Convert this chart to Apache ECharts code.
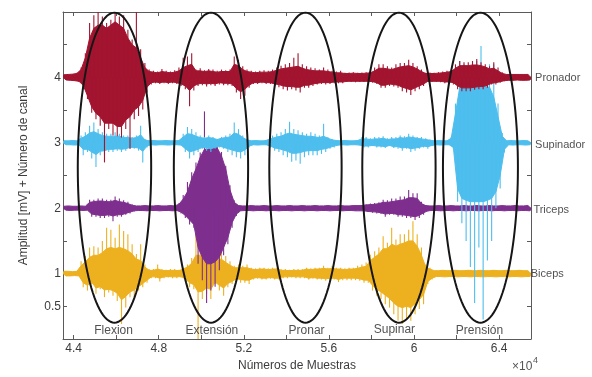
<!DOCTYPE html>
<html>
<head>
<meta charset="utf-8">
<script src="https://cdn.jsdelivr.net/npm/echarts@6/dist/echarts.min.js"></script>
<style>html,body{margin:0;padding:0;background:#fff}#chart{width:592px;height:377px}</style>
</head>
<body>
<div id="chart"></div>
<script>
// ---- Data (mV per 200-sample bin, starting at sample 43500) ----
// *Peak arrays: extreme excursion in the bin (thin spikes); *Body arrays: dense filled part.
const binStartSample = 43500;
const binSize = 200;

const channelNames = ['Biceps', 'Triceps', 'Supinador', 'Pronador'];
const channelOffsets = [1, 2, 3, 4];
const channelColors = ['#EDB120', '#7E2F8E', '#4DBEEE', '#A2142F'];

const pronadorPeakHi = [0.04,0.045,0.05,0.07,0.15,0.37,0.83,0.95,1.1,0.93,
  0.83,0.88,1.1,0.93,0.95,0.73,0.58,1.05,0.43,0.22,
  0.12,0.1,0.09,0.13,0.1,0.09,0.11,0.15,0.3,0.32,
  0.37,0.12,0.14,0.11,0.13,0.12,0.1,0.12,0.11,0.12,
  0.32,0.27,0.17,0.12,0.1,0.09,0.1,0.11,0.1,0.12,
  0.15,0.18,0.2,0.22,0.3,0.37,0.2,0.17,0.15,0.14,
  0.12,0.15,0.12,0.1,0.09,0.1,0.07,0.075,0.08,0.07,
  0.075,0.08,0.09,0.15,0.2,0.2,0.17,0.15,0.2,0.22,
  0.22,0.27,0.22,0.17,0.12,0.07,0.075,0.07,0.08,0.09,
  0.1,0.12,0.2,0.25,0.23,0.23,0.25,0.28,0.23,0.2,
  0.17,0.23,0.15,0.08,0.045,0.045,0.05,0.045,0.045,0.05];
const pronadorPeakLo = [0.04,0.045,0.05,0.07,0.16,0.33,0.54,0.64,0.74,1.3,
  0.79,0.89,0.9,0.92,0.79,1.09,0.64,0.59,0.49,0.23,
  0.11,0.09,0.1,0.09,0.1,0.09,0.1,0.13,0.18,0.44,
  0.2,0.13,0.12,0.14,0.12,0.13,0.11,0.12,0.12,0.13,
  0.23,0.33,0.28,0.16,0.1,0.1,0.09,0.1,0.1,0.13,
  0.15,0.18,0.2,0.18,0.2,0.23,0.16,0.16,0.13,0.11,
  0.1,0.11,0.1,0.09,0.09,0.09,0.07,0.07,0.075,0.07,
  0.07,0.075,0.08,0.1,0.16,0.16,0.13,0.14,0.16,0.21,
  0.23,0.27,0.21,0.18,0.13,0.07,0.07,0.07,0.075,0.09,
  0.09,0.11,0.18,0.21,0.21,0.21,0.19,0.18,0.18,0.16,
  0.11,0.11,0.08,0.06,0.045,0.045,0.04,0.045,0.045,0.04];
const pronadorBodyHi = [0.04,0.045,0.05,0.06,0.12,0.3,0.6,0.75,0.8,0.8,
  0.75,0.8,0.85,0.8,0.75,0.6,0.5,0.45,0.3,0.15,
  0.09,0.08,0.07,0.09,0.08,0.07,0.08,0.1,0.15,0.18,
  0.2,0.1,0.1,0.09,0.1,0.09,0.08,0.09,0.09,0.09,
  0.2,0.18,0.12,0.09,0.08,0.07,0.08,0.08,0.08,0.09,
  0.11,0.13,0.14,0.15,0.16,0.17,0.14,0.12,0.11,0.1,
  0.1,0.1,0.09,0.08,0.07,0.07,0.06,0.06,0.065,0.06,
  0.06,0.065,0.07,0.1,0.14,0.14,0.13,0.12,0.14,0.16,
  0.17,0.18,0.16,0.13,0.09,0.06,0.06,0.06,0.065,0.07,
  0.08,0.09,0.14,0.18,0.18,0.18,0.19,0.19,0.18,0.16,
  0.13,0.14,0.1,0.06,0.045,0.045,0.045,0.045,0.045,0.045];
const pronadorBodyLo = [0.04,0.045,0.05,0.06,0.12,0.28,0.45,0.55,0.6,0.7,
  0.7,0.7,0.75,0.75,0.65,0.6,0.5,0.45,0.35,0.15,
  0.08,0.07,0.08,0.07,0.08,0.07,0.08,0.1,0.13,0.2,
  0.13,0.1,0.09,0.1,0.09,0.1,0.08,0.09,0.09,0.1,
  0.17,0.22,0.18,0.12,0.08,0.08,0.07,0.08,0.08,0.1,
  0.11,0.13,0.14,0.14,0.15,0.15,0.12,0.12,0.1,0.09,
  0.08,0.08,0.08,0.07,0.07,0.07,0.06,0.06,0.06,0.06,
  0.06,0.06,0.065,0.08,0.12,0.12,0.1,0.11,0.12,0.15,
  0.17,0.19,0.16,0.13,0.1,0.06,0.06,0.06,0.06,0.07,
  0.07,0.08,0.13,0.16,0.16,0.16,0.15,0.14,0.14,0.12,
  0.09,0.08,0.065,0.05,0.045,0.045,0.04,0.045,0.045,0.04];

const supinadorPeakHi = [0.03,0.03,0.035,0.03,0.11,0.16,0.26,0.31,0.21,0.16,
  0.14,0.14,0.16,0.14,0.11,0.11,0.09,0.11,0.26,0.06,
  0.03,0.035,0.03,0.03,0.035,0.03,0.03,0.035,0.14,0.24,
  0.21,0.16,0.11,0.09,0.11,0.09,0.06,0.09,0.11,0.14,
  0.31,0.21,0.11,0.06,0.03,0.035,0.03,0.03,0.06,0.11,
  0.14,0.16,0.21,0.32,0.21,0.19,0.16,0.14,0.16,0.14,
  0.11,0.29,0.09,0.06,0.04,0.03,0.035,0.03,0.03,0.04,
  0.09,0.09,0.07,0.09,0.09,0.1,0.07,0.09,0.09,0.11,
  0.1,0.14,0.11,0.09,0.09,0.07,0.05,0.03,0.035,0.03,
  0.03,0.09,0.6,1.25,1.2,1.15,0.95,1.25,1.48,1.0,
  1.2,1.2,0.6,0.15,0.03,0.035,0.03,0.03,0.035,0.03];
const supinadorPeakLo = [0.03,0.03,0.035,0.03,0.19,0.14,0.24,0.37,0.19,0.19,
  0.14,0.14,0.12,0.14,0.12,0.09,0.09,0.12,0.3,0.07,
  0.03,0.035,0.03,0.03,0.035,0.03,0.03,0.035,0.14,0.24,
  0.19,0.14,0.09,0.12,0.14,0.09,0.07,0.09,0.14,0.19,
  0.22,0.24,0.19,0.07,0.03,0.035,0.03,0.03,0.07,0.12,
  0.14,0.19,0.22,0.29,0.27,0.32,0.22,0.19,0.19,0.19,
  0.17,0.14,0.09,0.07,0.04,0.03,0.035,0.03,0.03,0.04,
  0.07,0.07,0.05,0.07,0.07,0.08,0.05,0.08,0.09,0.12,
  0.09,0.14,0.12,0.09,0.07,0.09,0.05,0.03,0.035,0.03,
  0.03,0.09,0.9,1.23,1.5,1.9,2.45,1.6,2.7,1.8,
  1.5,1.0,0.7,0.15,0.03,0.035,0.03,0.03,0.035,0.03];
const supinadorBodyHi = [0.03,0.03,0.035,0.03,0.07,0.1,0.15,0.17,0.14,0.11,
  0.1,0.1,0.1,0.1,0.08,0.08,0.07,0.08,0.12,0.045,
  0.03,0.035,0.03,0.03,0.035,0.03,0.03,0.035,0.09,0.14,
  0.13,0.1,0.08,0.07,0.08,0.07,0.05,0.07,0.08,0.09,
  0.15,0.13,0.08,0.045,0.03,0.035,0.03,0.03,0.045,0.07,
  0.09,0.1,0.13,0.15,0.13,0.12,0.11,0.1,0.1,0.09,
  0.08,0.1,0.07,0.045,0.035,0.03,0.035,0.03,0.03,0.035,
  0.06,0.06,0.05,0.06,0.06,0.07,0.05,0.06,0.06,0.08,
  0.07,0.09,0.08,0.07,0.06,0.05,0.04,0.03,0.035,0.03,
  0.03,0.07,0.45,0.85,0.87,0.87,0.85,0.87,0.88,0.86,
  0.85,0.7,0.4,0.1,0.03,0.035,0.03,0.03,0.035,0.03];
const supinadorBodyLo = [0.03,0.03,0.035,0.03,0.1,0.1,0.14,0.18,0.13,0.12,
  0.1,0.1,0.09,0.1,0.09,0.07,0.07,0.08,0.13,0.05,
  0.03,0.035,0.03,0.03,0.035,0.03,0.03,0.035,0.09,0.14,
  0.12,0.1,0.07,0.08,0.09,0.07,0.05,0.07,0.09,0.11,
  0.13,0.14,0.11,0.05,0.03,0.035,0.03,0.03,0.05,0.08,
  0.09,0.11,0.13,0.16,0.16,0.15,0.13,0.12,0.12,0.12,
  0.1,0.09,0.07,0.05,0.035,0.03,0.035,0.03,0.03,0.035,
  0.05,0.05,0.04,0.05,0.05,0.06,0.04,0.06,0.06,0.08,
  0.07,0.09,0.08,0.07,0.05,0.06,0.04,0.03,0.035,0.03,
  0.03,0.07,0.7,0.85,0.88,0.9,0.9,0.9,0.9,0.88,
  0.85,0.75,0.5,0.1,0.03,0.035,0.03,0.03,0.035,0.03];

const tricepsPeakHi = [0.03,0.035,0.03,0.03,0.035,0.03,0.13,0.13,0.15,0.15,
  0.13,0.13,0.18,0.15,0.12,0.1,0.06,0.035,0.035,0.04,
  0.035,0.035,0.04,0.035,0.035,0.04,0.035,0.08,0.2,0.4,
  0.55,0.7,0.85,1.48,0.94,1.05,0.98,0.86,0.65,0.35,
  0.12,0.04,0.035,0.035,0.04,0.035,0.035,0.04,0.035,0.035,
  0.04,0.035,0.035,0.04,0.035,0.035,0.04,0.035,0.035,0.04,
  0.035,0.035,0.04,0.035,0.035,0.04,0.035,0.035,0.04,0.04,
  0.05,0.06,0.07,0.08,0.09,0.13,0.12,0.15,0.15,0.18,
  0.18,0.28,0.23,0.23,0.1,0.05,0.035,0.035,0.04,0.035,
  0.035,0.04,0.035,0.035,0.04,0.035,0.035,0.04,0.035,0.035,
  0.04,0.035,0.035,0.04,0.035,0.035,0.04,0.035,0.035,0.04];
const tricepsPeakLo = [0.03,0.035,0.03,0.03,0.035,0.03,0.13,0.13,0.15,0.15,
  0.13,0.2,0.13,0.13,0.1,0.08,0.05,0.035,0.035,0.04,
  0.035,0.035,0.04,0.035,0.035,0.04,0.035,0.08,0.15,0.25,
  0.3,0.85,1.1,1.45,1.26,1.2,0.95,0.72,0.55,0.3,
  0.12,0.04,0.035,0.035,0.04,0.035,0.035,0.04,0.035,0.035,
  0.04,0.035,0.035,0.04,0.035,0.035,0.04,0.035,0.035,0.04,
  0.035,0.035,0.04,0.035,0.035,0.04,0.035,0.035,0.04,0.04,
  0.05,0.06,0.07,0.08,0.09,0.13,0.1,0.1,0.13,0.13,
  0.15,0.15,0.18,0.15,0.1,0.05,0.035,0.035,0.04,0.035,
  0.035,0.04,0.035,0.035,0.04,0.035,0.035,0.04,0.035,0.035,
  0.04,0.035,0.035,0.04,0.035,0.035,0.04,0.035,0.035,0.04];
const tricepsBodyHi = [0.03,0.035,0.03,0.03,0.035,0.03,0.09,0.1,0.11,0.11,
  0.1,0.1,0.12,0.1,0.09,0.07,0.045,0.035,0.035,0.04,
  0.035,0.035,0.04,0.035,0.035,0.04,0.035,0.06,0.14,0.25,
  0.45,0.6,0.78,0.9,0.9,0.95,0.92,0.8,0.6,0.28,
  0.09,0.04,0.035,0.035,0.04,0.035,0.035,0.04,0.035,0.035,
  0.04,0.035,0.035,0.04,0.035,0.035,0.04,0.035,0.035,0.04,
  0.035,0.035,0.04,0.035,0.035,0.04,0.035,0.035,0.04,0.04,
  0.04,0.05,0.055,0.06,0.07,0.09,0.09,0.1,0.11,0.12,
  0.13,0.16,0.16,0.15,0.07,0.04,0.035,0.035,0.04,0.035,
  0.035,0.04,0.035,0.035,0.04,0.035,0.035,0.04,0.035,0.035,
  0.04,0.035,0.035,0.04,0.035,0.035,0.04,0.035,0.035,0.04];
const tricepsBodyLo = [0.03,0.035,0.03,0.03,0.035,0.03,0.09,0.1,0.11,0.11,
  0.1,0.12,0.1,0.1,0.08,0.06,0.04,0.035,0.035,0.04,
  0.035,0.035,0.04,0.035,0.035,0.04,0.035,0.06,0.11,0.18,
  0.25,0.6,0.75,0.85,0.85,0.82,0.75,0.6,0.45,0.22,
  0.09,0.04,0.035,0.035,0.04,0.035,0.035,0.04,0.035,0.035,
  0.04,0.035,0.035,0.04,0.035,0.035,0.04,0.035,0.035,0.04,
  0.035,0.035,0.04,0.035,0.035,0.04,0.035,0.035,0.04,0.04,
  0.04,0.05,0.055,0.06,0.07,0.09,0.08,0.08,0.1,0.1,
  0.11,0.12,0.13,0.11,0.07,0.04,0.035,0.035,0.04,0.035,
  0.035,0.04,0.035,0.035,0.04,0.035,0.035,0.04,0.035,0.035,
  0.04,0.035,0.035,0.04,0.035,0.035,0.04,0.035,0.035,0.04];

const bicepsPeakHi = [0.035,0.035,0.03,0.035,0.19,0.27,0.4,0.42,0.4,0.5,
  0.7,0.67,0.55,0.75,0.65,0.6,0.45,0.3,0.45,0.14,
  0.07,0.07,0.14,0.07,0.06,0.07,0.07,0.06,0.09,0.14,
  0.24,0.6,0.45,0.35,0.32,0.27,0.4,0.4,0.27,0.19,
  0.12,0.14,0.12,0.14,0.09,0.08,0.09,0.09,0.08,0.09,
  0.09,0.07,0.07,0.06,0.07,0.07,0.07,0.09,0.08,0.09,
  0.09,0.12,0.09,0.12,0.09,0.09,0.08,0.09,0.09,0.12,
  0.14,0.17,0.29,0.34,0.4,0.57,0.47,0.7,0.52,0.6,
  0.6,0.67,0.8,0.6,0.4,0.14,0.09,0.045,0.045,0.05,
  0.045,0.045,0.05,0.045,0.045,0.05,0.045,0.045,0.05,0.045,
  0.045,0.05,0.045,0.045,0.05,0.045,0.045,0.05,0.045,0.045];
const bicepsPeakLo = [0.035,0.035,0.03,0.035,0.21,0.26,0.16,0.31,0.24,0.36,
  0.29,0.34,0.42,0.77,0.52,0.36,0.36,0.26,0.21,0.14,
  0.07,0.07,0.12,0.07,0.06,0.07,0.07,0.06,0.11,0.21,
  0.24,1.05,0.39,0.31,0.39,0.16,0.26,0.34,0.21,0.16,
  0.11,0.14,0.14,0.16,0.09,0.08,0.09,0.09,0.08,0.09,
  0.09,0.07,0.07,0.06,0.07,0.07,0.07,0.09,0.08,0.09,
  0.09,0.11,0.09,0.09,0.13,0.1,0.1,0.1,0.1,0.11,
  0.14,0.14,0.26,0.34,0.39,0.47,0.52,0.62,0.72,0.77,
  0.69,0.72,0.62,0.54,0.47,0.16,0.09,0.045,0.045,0.05,
  0.045,0.045,0.05,0.045,0.045,0.05,0.045,0.045,0.05,0.045,
  0.045,0.05,0.045,0.045,0.05,0.045,0.045,0.05,0.045,0.045];
const bicepsBodyHi = [0.035,0.035,0.03,0.035,0.12,0.18,0.25,0.28,0.28,0.32,
  0.38,0.4,0.38,0.4,0.38,0.35,0.3,0.22,0.2,0.1,
  0.05,0.05,0.07,0.05,0.045,0.05,0.05,0.045,0.07,0.1,
  0.16,0.28,0.28,0.24,0.22,0.18,0.22,0.22,0.17,0.13,
  0.09,0.09,0.09,0.09,0.07,0.06,0.07,0.07,0.06,0.07,
  0.07,0.05,0.05,0.045,0.05,0.05,0.05,0.07,0.06,0.07,
  0.07,0.08,0.07,0.08,0.07,0.07,0.06,0.07,0.07,0.08,
  0.1,0.11,0.2,0.25,0.3,0.38,0.38,0.45,0.42,0.45,
  0.47,0.5,0.5,0.42,0.28,0.1,0.07,0.045,0.045,0.05,
  0.045,0.045,0.05,0.045,0.045,0.05,0.045,0.045,0.05,0.045,
  0.045,0.05,0.045,0.045,0.05,0.045,0.045,0.05,0.045,0.045];
const bicepsBodyLo = [0.035,0.035,0.03,0.035,0.14,0.18,0.13,0.22,0.2,0.25,
  0.24,0.26,0.3,0.4,0.35,0.28,0.25,0.2,0.15,0.1,
  0.05,0.05,0.07,0.05,0.045,0.05,0.05,0.045,0.08,0.14,
  0.17,0.28,0.27,0.22,0.24,0.13,0.18,0.22,0.15,0.12,
  0.08,0.09,0.1,0.1,0.07,0.06,0.07,0.07,0.06,0.07,
  0.07,0.05,0.05,0.045,0.05,0.05,0.05,0.07,0.06,0.07,
  0.07,0.08,0.07,0.07,0.09,0.07,0.07,0.07,0.07,0.08,
  0.1,0.1,0.18,0.24,0.28,0.33,0.38,0.45,0.5,0.52,
  0.5,0.52,0.46,0.4,0.32,0.12,0.07,0.045,0.045,0.05,
  0.045,0.045,0.05,0.045,0.045,0.05,0.045,0.045,0.05,0.045,
  0.045,0.05,0.045,0.045,0.05,0.045,0.045,0.05,0.045,0.045];

const channelPeakHi = [bicepsPeakHi, tricepsPeakHi, supinadorPeakHi, pronadorPeakHi];
const channelPeakLo = [bicepsPeakLo, tricepsPeakLo, supinadorPeakLo, pronadorPeakLo];
const channelBodyHi = [bicepsBodyHi, tricepsBodyHi, supinadorBodyHi, pronadorBodyHi];
const channelBodyLo = [bicepsBodyLo, tricepsBodyLo, supinadorBodyLo, pronadorBodyLo];

// ellipses (data coordinates)
const gestureNames = ['Flexion', 'Extensión', 'Pronar', 'Supinar', 'Prensión'];
const ellipseCenterX = [45920, 50456, 54898, 59292, 63123];
const ellipseRadiusX = [1725, 1746, 1700, 1723, 1762];
const ellipseCenterY = [2.62, 2.62, 2.62, 2.62, 2.62];
const ellipseRadiusY = [2.37, 2.37, 2.37, 2.37, 2.37];
const gestureLabelX = [45880, 50500, 54950, 59080, 63080];
const gestureLabelY = [0.13, 0.13, 0.13, 0.15, 0.13];

// channel labels at right
const rightLabelNames = ['Pronador', 'Supinador', 'Triceps', 'Biceps'];
const rightLabelX = [65690, 65690, 65610, 65485];
const rightLabelY = [3.99, 2.97, 1.98, 0.99];

// axes
const xMin = 43500, xMax = 65500;
const xTicks = [44000,46000,48000,50000,52000,54000,56000,58000,60000,62000,64000];
const xTickLabels = [44000,48000,52000,56000,60000,64000];
const yMin = 0, yMax = 5;
const yTicks = [0,0.5,1,1.5,2,2.5,3,3.5,4,4.5,5];
const yTickLabels = [0.5,1,2,3,4];

// ---- build ----
const FONT = 'Liberation Sans, Arial, Helvetica, sans-serif';
const axisCol = '#5a5a5a';
const textCol = '#3c3c3c';

function clipRect(params) {
  const cs = params.coordSys;
  return { type: 'rect', shape: { x: cs.x, y: cs.y, width: cs.width, height: cs.height } };
}

const signalSeries = channelNames.map((name, c) => ({
  name, type: 'custom', silent: true, z: 2,
  data: [[binStartSample, channelOffsets[c]]],
  renderItem: function (params, api) {
    const pHi = channelPeakHi[c], pLo = channelPeakLo[c];
    const bHi = channelBodyHi[c], bLo = channelBodyLo[c];
    const base = channelOffsets[c], col = channelColors[c];
    const up = [], down = [], needles = [];
    for (let i = 0; i < pHi.length; i++) {
      const s0 = binStartSample + i * binSize;
      const xa = s0 + binSize * 0.25, xb = s0 + binSize * 0.75;
      up.push(api.coord([xa, base + bHi[i]]));
      down.push(api.coord([xb, base - bLo[i]]));
      const a0 = api.coord([xa, base]), a1 = api.coord([xa, base + pHi[i]]);
      const b0 = api.coord([xb, base]), b1 = api.coord([xb, base - pLo[i]]);
      needles.push({ type: 'line', shape: { x1: a0[0], y1: a0[1], x2: a1[0], y2: a1[1] },
        style: { stroke: col, lineWidth: 1.1 } });
      needles.push({ type: 'line', shape: { x1: b0[0], y1: b0[1], x2: b1[0], y2: b1[1] },
        style: { stroke: col, lineWidth: 1.1 } });
    }
    const first = api.coord([binStartSample, base]);
    const last = api.coord([binStartSample + pHi.length * binSize, base]);
    const pts = [first].concat(up, [last], down.reverse());
    return {
      type: 'group', clipPath: clipRect(params),
      children: [{ type: 'polygon', shape: { points: pts },
        style: { fill: col, stroke: col, lineWidth: 1, lineJoin: 'bevel' } }].concat(needles)
    };
  }
}));

const ellipseSeries = {
  type: 'custom', silent: true, z: 5,
  data: ellipseCenterX.map((cx, i) => [cx, ellipseCenterY[i], ellipseRadiusX[i], ellipseRadiusY[i]]),
  renderItem: function (params, api) {
    const c = api.coord([api.value(0), api.value(1)]);
    const sz = api.size([api.value(2), api.value(3)]);
    const pts = [];
    const n = 120;
    for (let k = 0; k < n; k++) {
      const a = (k / n) * Math.PI * 2;
      pts.push([c[0] + sz[0] * Math.cos(a), c[1] + sz[1] * Math.sin(a)]);
    }
    return { type: 'polygon', shape: { points: pts },
      style: { fill: 'none', stroke: '#161616', lineWidth: 2 } };
  }
};

const gestureLabelSeries = {
  type: 'scatter', silent: true, z: 6, clip: false, symbolSize: 0.1,
  itemStyle: { color: 'transparent' },
  data: gestureNames.map((n, i) => ({ name: n, value: [gestureLabelX[i], gestureLabelY[i]] })),
  label: { show: true, position: 'inside', formatter: '{b}', color: '#262626',
    fontFamily: FONT, fontSize: 12 }
};

const rightLabelSeries = {
  type: 'scatter', silent: true, z: 6, clip: false, symbolSize: 0.1,
  itemStyle: { color: 'transparent' },
  data: rightLabelNames.map((n, i) => ({ name: n, value: [rightLabelX[i], rightLabelY[i]] })),
  label: { show: true, position: 'right', distance: 0, formatter: '{b}', color: '#262626',
    fontFamily: FONT, fontSize: 11 }
};

const chart = echarts.init(document.getElementById('chart'), null, { renderer: 'canvas' });
chart.setOption({
  animation: false,
  backgroundColor: '#ffffff',
  grid: { left: 63, right: 61, top: 12, bottom: 35, containLabel: false },
  xAxis: [
    { type: 'value', position: 'bottom', min: xMin, max: xMax,
      name: 'Números de Muestras', nameLocation: 'middle', nameGap: 21,
      nameTextStyle: { color: textCol, fontFamily: FONT, fontSize: 12 },
      axisLine: { show: true, onZero: false, lineStyle: { color: axisCol, width: 1 } },
      axisTick: { show: true, inside: true, length: 4, customValues: xTicks, lineStyle: { color: axisCol } },
      axisLabel: { customValues: xTickLabels, margin: 4, color: textCol, fontFamily: FONT, fontSize: 12,
        formatter: v => String(+(v / 1e4).toFixed(1)) },
      splitLine: { show: false } },
    { type: 'value', position: 'top', min: xMin, max: xMax,
      axisLine: { show: true, onZero: false, lineStyle: { color: axisCol, width: 1 } },
      axisTick: { show: true, inside: true, length: 4, customValues: xTicks, lineStyle: { color: axisCol } },
      axisLabel: { show: false }, splitLine: { show: false } }
  ],
  yAxis: [
    { type: 'value', position: 'left', min: yMin, max: yMax,
      name: 'Amplitud [mV] + Número de canal', nameLocation: 'middle', nameGap: 33,
      nameTextStyle: { color: textCol, fontFamily: FONT, fontSize: 12 },
      axisLine: { show: true, onZero: false, lineStyle: { color: axisCol, width: 1 } },
      axisTick: { show: true, inside: true, length: 4, customValues: yTicks, lineStyle: { color: axisCol } },
      axisLabel: { customValues: yTickLabels, margin: 2, color: textCol, fontFamily: FONT, fontSize: 12,
        padding: [5, 0, 0, 0], formatter: v => String(v) },
      splitLine: { show: false } },
    { type: 'value', position: 'right', min: yMin, max: yMax,
      axisLine: { show: true, onZero: false, lineStyle: { color: axisCol, width: 1 } },
      axisTick: { show: true, inside: true, length: 4, customValues: yTicks, lineStyle: { color: axisCol } },
      axisLabel: { show: false }, splitLine: { show: false } }
  ],
  graphic: [
    { type: 'text', left: 512, top: 361, silent: true,
      style: { text: '×10', fill: '#555', font: '12px ' + FONT } },
    { type: 'text', left: 533, top: 356, silent: true,
      style: { text: '4', fill: '#555', font: '9px ' + FONT } }
  ],
  series: [...signalSeries, ellipseSeries, gestureLabelSeries, rightLabelSeries]
});
</script>
</body>
</html>
